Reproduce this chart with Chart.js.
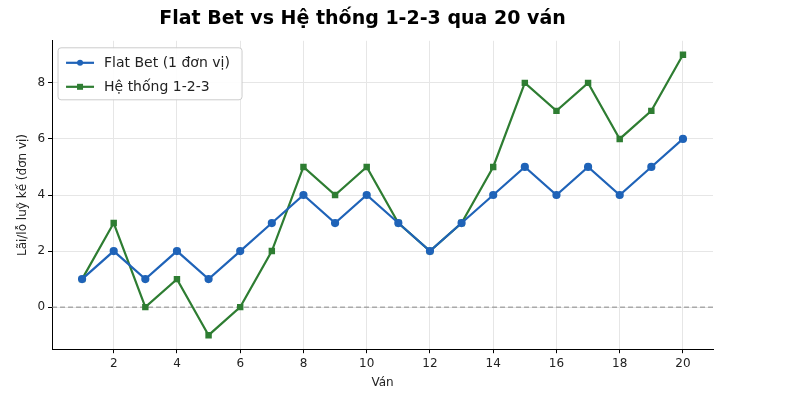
<!DOCTYPE html>
<html><head><meta charset="utf-8">
<script src="https://cdn.jsdelivr.net/npm/chart.js@4/dist/chart.umd.min.js"></script>
<style>html,body{margin:0;padding:0;background:#fff}</style>
</head><body><canvas id="c" width="800" height="400" style="width:800px;height:400px"></canvas>
<script>
const rounds=[1,2,3,4,5,6,7,8,9,10,11,12,13,14,15,16,17,18,19,20];
const flatBet=[1,2,1,2,1,2,3,4,3,4,3,2,3,4,5,4,5,4,5,6];
const system123=[1,3,0,1,-1,0,2,5,4,5,3,2,3,5,8,7,8,6,7,9];
const xTicks=[2,4,6,8,10,12,14,16,18,20];
const yTicks=[0,2,4,6,8];
const F="DejaVu Sans";
const zeroLine={id:'z',beforeDatasetsDraw(ch){const{ctx,chartArea:a,scales:{y}}=ch;const py=y.getPixelForValue(0);ctx.save();ctx.strokeStyle='#888';ctx.lineWidth=1;ctx.setLineDash([5,3]);ctx.beginPath();ctx.moveTo(a.left,py);ctx.lineTo(a.right,py);ctx.stroke();ctx.restore();}};
const legendBox={id:'lb',afterDraw(ch){const{ctx,chartArea:a}=ch;const x=a.left+6,y=a.top+7,w=184,h=52;ctx.save();
ctx.fillStyle='rgba(255,255,255,0.9)';ctx.strokeStyle='#ccc';ctx.lineWidth=1;ctx.beginPath();ctx.roundRect(x,y,w,h,3);ctx.fill();ctx.stroke();
ch.data.datasets.forEach((d,i)=>{const ly=y+15+i*24;ctx.strokeStyle=d.borderColor;ctx.lineWidth=2.2;ctx.beginPath();ctx.moveTo(x+8,ly);ctx.lineTo(x+36,ly);ctx.stroke();
ctx.fillStyle=d.borderColor;if(i===0){ctx.beginPath();ctx.arc(x+22,ly,3,0,7);ctx.fill();}else ctx.fillRect(x+19,ly-3,6,6);
ctx.fillStyle='#222';ctx.font='14px '+F;ctx.textBaseline='middle';ctx.fillText(d.label,x+46,ly+1);});ctx.restore();}};
new Chart(document.getElementById('c'),{type:'line',
data:{datasets:[
{label:'Flat Bet (1 đơn vị)',data:rounds.map((r,i)=>({x:r,y:flatBet[i]})),borderColor:'#1f63b8',backgroundColor:'#1f63b8',borderWidth:2.2,pointRadius:3,pointStyle:'circle'},
{label:'Hệ thống 1-2-3',data:rounds.map((r,i)=>({x:r,y:system123[i]})),borderColor:'#2e7d32',backgroundColor:'#2e7d32',borderWidth:2.2,pointRadius:3,pointStyle:'rect'}]},
options:{responsive:false,animation:false,devicePixelRatio:1,layout:{padding:{left:12,right:87,top:0,bottom:8}},
plugins:{title:{display:true,text:'Flat Bet vs Hệ thống 1-2-3 qua 20 ván',font:{family:F,size:19,weight:'bold'},color:'#000',padding:{top:8,bottom:10}},
legend:{display:false}},
scales:{x:{type:'linear',min:0.05,max:20.95,afterBuildTicks:s=>{s.ticks=xTicks.map(v=>({value:v}))},grid:{color:'#e6e6e6',tickColor:'#000',tickLength:4},border:{color:'#000'},ticks:{autoSkip:false,maxRotation:0,font:{family:F,size:12},color:'#222'},title:{display:true,text:'Ván',font:{family:F,size:12},color:'#222',padding:2}},
y:{min:-1.5,max:9.5,afterBuildTicks:s=>{s.ticks=yTicks.map(v=>({value:v}))},grid:{color:'#e6e6e6',tickColor:'#000',tickLength:4},border:{color:'#000'},ticks:{autoSkip:false,font:{family:F,size:12},color:'#222'},title:{display:true,text:'Lãi/lỗ luỹ kế (đơn vị)',font:{family:F,size:12},color:'#222'}}}},
plugins:[zeroLine,legendBox]});
</script></body></html>
